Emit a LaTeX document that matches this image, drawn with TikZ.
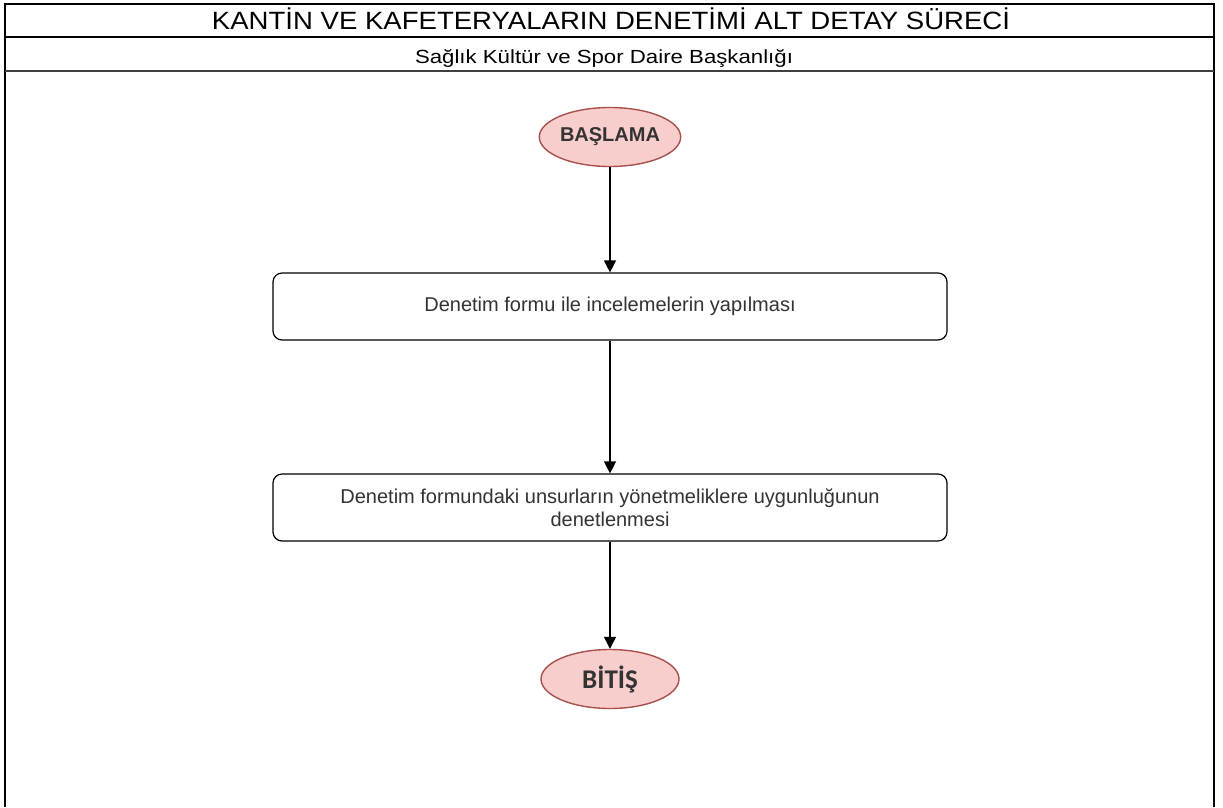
\documentclass[tikz,border=0pt]{standalone}
\usepackage{fontspec}
\setmainfont{Liberation Sans}
\newfontfamily\calfont{Carlito}
\usetikzlibrary{shapes.geometric,arrows.meta}
\definecolor{termfill}{HTML}{F8CECC}
\definecolor{termline}{HTML}{A8504C}
\definecolor{textgray}{HTML}{333333}

\begin{document}
\begin{tikzpicture}[x=1pt,y=-1pt,
  terminal/.style={ellipse, draw=termline, fill=termfill, line width=1.4pt,
    minimum width=138pt, minimum height=59pt, inner sep=0pt, text=textgray},
  process/.style={rectangle, rounded corners=9pt, draw=black, line width=1.2pt,
    minimum width=674pt, minimum height=67pt, align=center,
    font=\fontsize{20}{23}\selectfont, text=textgray},
  flow/.style={-{Triangle[length=12pt,width=12pt]}, line width=1.3pt},
  heading/.style={anchor=base, inner sep=0pt}]
\useasboundingbox (0,0) rectangle (1223,807);
\fill[white] (0,0) rectangle (1223,807);

% page frame with title and department rows
\draw[line width=1.6pt] (5,807) -- (5,4) -- (1214,4) -- (1214,807);
\draw[line width=1.4pt] (5,37) -- (1214,37);
\draw[line width=2.6pt, black!75] (5,71) -- (1214,71);

\node[heading] (title) at (611,29)
  {\resizebox{798pt}{\height}{\fontsize{25}{28}\selectfont KANTİN VE KAFETERYALARIN DENETİMİ ALT DETAY SÜRECİ}};
\node[heading] (dept) at (604,63)
  {\resizebox{378pt}{\height}{\fontsize{19}{22}\selectfont Sağlık Kültür ve Spor Daire Başkanlığı}};

% process flow
\node[terminal, font=\bfseries\fontsize{20}{24}\selectfont] (start) at (610,137) {BAŞLAMA};
\node[process] (inspect) at (610,306.5) {Denetim formu ile incelemelerin yapılması};
\node[process] (check) at (610,507.5) {Denetim formundaki unsurların yönetmeliklere uygunluğunun\\denetlenmesi};
\node[terminal, font=\calfont\bfseries\fontsize{27}{31}\selectfont] (finish) at (610,679) {BİTİŞ};

\draw[flow] (start) -- (inspect);
\draw[flow] (inspect) -- (check);
\draw[flow] (check) -- (finish);
\end{tikzpicture}
\end{document}
